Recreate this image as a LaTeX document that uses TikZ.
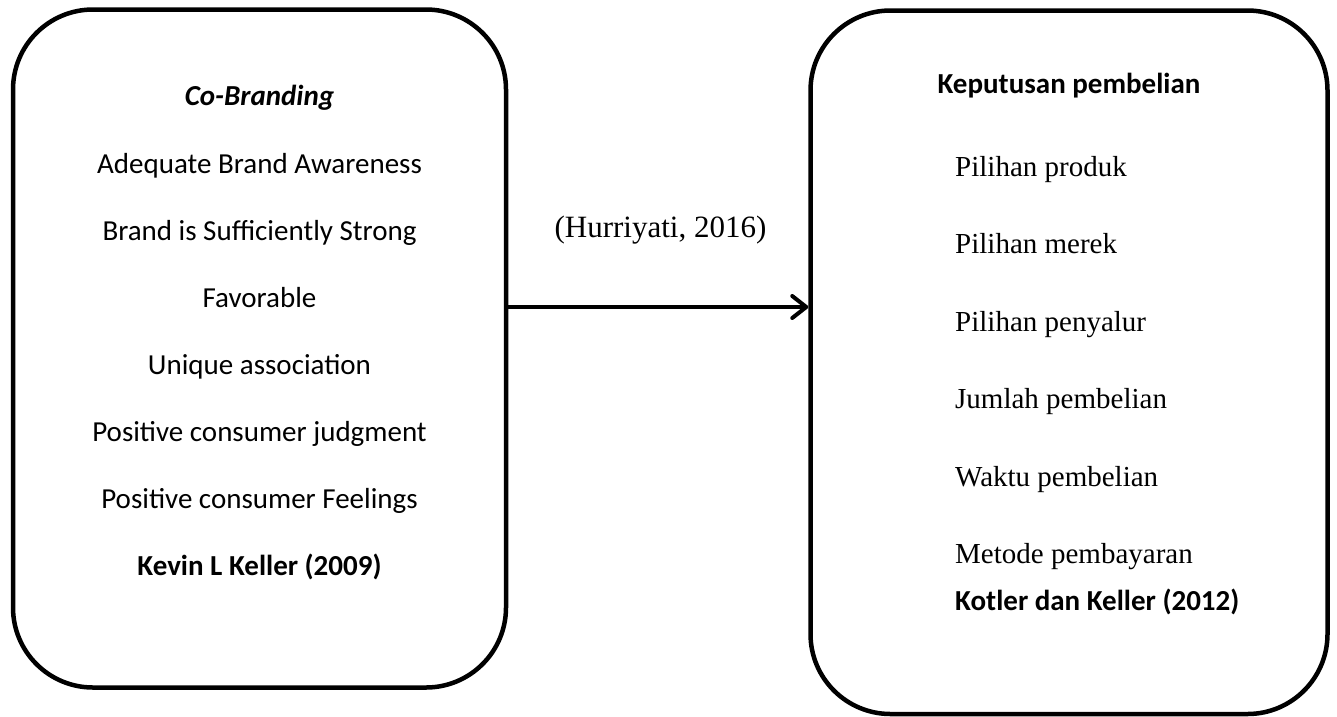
\documentclass[tikz,border=0pt]{standalone}
\usepackage{fontspec}
\setmainfont{Liberation Serif}
\newfontfamily\calibri{Carlito}
\usetikzlibrary{arrows.meta,positioning}
\tikzset{
  framebox/.style={
    rectangle, draw=black, line width=4.5pt,
    rounded corners=#1, inner sep=0pt
  },
  framebox/.default=80pt,
  sanstext/.style={
    font=\calibri\fontsize{29}{35}\selectfont,
    anchor=base, inner sep=0pt
  },
  sanshead/.style={
    font=\calibri\bfseries\fontsize{29}{35}\selectfont,
    anchor=#1, inner sep=0pt
  },
  sanshead/.default=base,
  serifitem/.style={
    font=\fontsize{29}{35}\selectfont,
    anchor=base west, inner sep=0pt
  },
  linkarrow/.style={
    -{Straight Barb[length=14pt, width=22pt, round]},
    line width=4pt, line cap=round
  },
}

\begin{document}
\begin{tikzpicture}[x=1pt, y=-1pt]
  \useasboundingbox (0,0) rectangle (1337,716);
  % left box
  \node[framebox, minimum width=493pt, minimum height=678pt] (cobrand) at (259.5,348.5) {};
  \node[sanshead, font=\calibri\bfseries\itshape\fontsize{29}{35}\selectfont] (cbtitle) at (259.5,105) {Co-Branding};
  \node[sanstext] (cb1) at (259.5,173) {Adequate Brand Awareness};
  \node[sanstext] (cb2) at (259.5,240) {Brand is Sufficiently Strong};
  \node[sanstext] (cb3) at (259.5,307) {Favorable};
  \node[sanstext] (cb4) at (259.5,374) {Unique association};
  \node[sanstext] (cb5) at (259.5,441) {Positive consumer judgment};
  \node[sanstext] (cb6) at (259.5,508) {Positive consumer Feelings};
  \node[sanshead] (cbsrc) at (259.5,575) {Kevin L Keller (2009)};
  % right box
  \node[framebox, minimum width=517pt, minimum height=703.5pt] (keputusan) at (1069,362.25) {};
  \node[sanshead] (kptitle) at (1069,93) {Keputusan pembelian};
  \node[serifitem] (kp1) at (955,176) {Pilihan produk};
  \node[serifitem] (kp2) at (955,253.5) {Pilihan merek};
  \node[serifitem] (kp3) at (955,331) {Pilihan penyalur};
  \node[serifitem] (kp4) at (955,408.5) {Jumlah pembelian};
  \node[serifitem] (kp5) at (955,486) {Waktu pembelian};
  \node[serifitem] (kp6) at (955,563.5) {Metode pembayaran};
  \node[sanshead=base west] (kpsrc) at (955,610) {Kotler dan Keller (2012)};
  % link
  \node[anchor=base, inner sep=0pt, font=\fontsize{31}{37}\selectfont] (hurriyati) at (660.5,237) {(Hurriyati, 2016)};
  \draw[linkarrow] ([yshift=41.5pt]cobrand.east) -- ([yshift=41.5pt]cobrand.east -| keputusan.west);
\end{tikzpicture}
\end{document}
